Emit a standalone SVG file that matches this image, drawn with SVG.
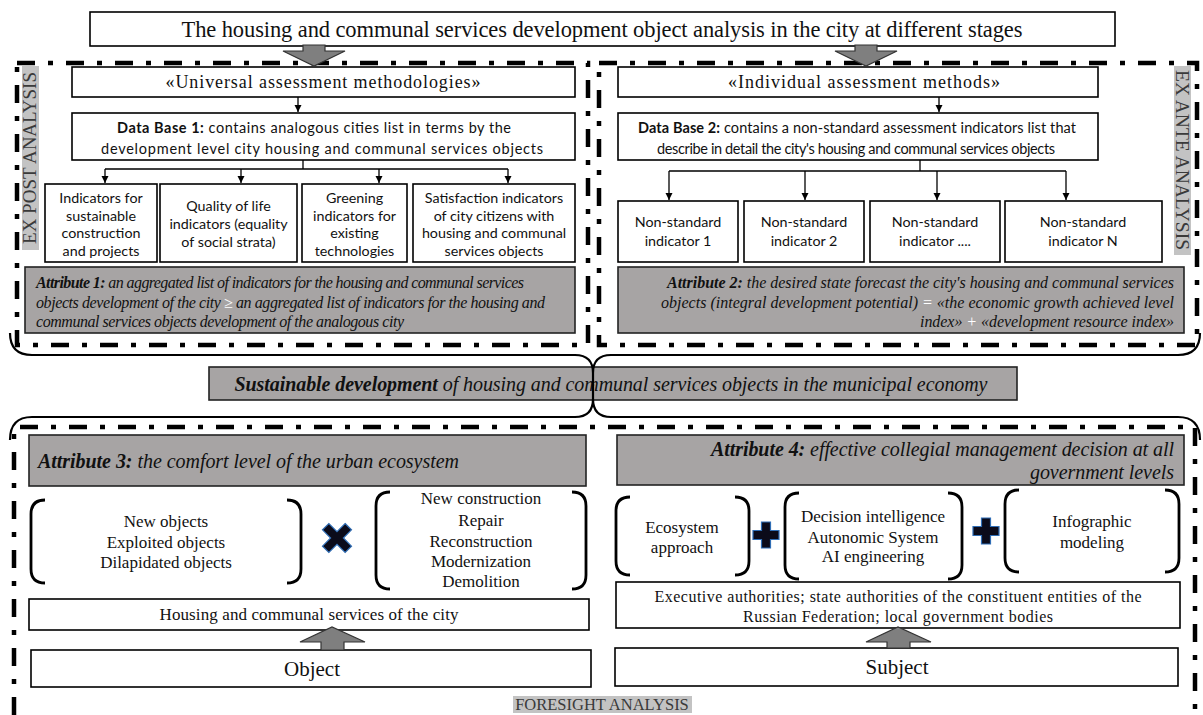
<svg xmlns="http://www.w3.org/2000/svg" width="1203" height="715" viewBox="0 0 1203 715">
<defs>
<marker id="ah" markerWidth="8" markerHeight="8" refX="7" refY="4" orient="auto" markerUnits="userSpaceOnUse"><path d="M0,0.5 L7,4 L0,7.5 Z" fill="#000"/></marker>
</defs>
<style>
.box{fill:#fff;stroke:#000;stroke-width:1.6}
.gbox{fill:#a7a4a4;stroke:#222;stroke-width:1.6}
.dash{fill:none;stroke:#000;stroke-width:4.5;stroke-dasharray:18 13 5 13}
.serif{font-family:"Liberation Serif","Times New Roman",serif;fill:#111}
.sans{font-family:Lato,"Liberation Sans",sans-serif;fill:#111}
.it{font-style:italic}
.b{font-weight:bold}
.c{text-anchor:middle}
.r{text-anchor:end}
.conn{fill:none;stroke:#000;stroke-width:1.3}
.brace{fill:none;stroke:#000;stroke-width:2.2}
.bracket{fill:none;stroke:#000;stroke-width:2.8}
.bigarrow{fill:#7f7f7f;stroke:#333;stroke-width:1.2}
.lbl{fill:#c3c3c3}
.lt{font-family:"Liberation Serif","Times New Roman",serif;fill:#3a3a3a}
.sym{fill:#0b0b1a;stroke:#2f6db5;stroke-width:1.2}
.wh{fill:#fff}
</style>

<!-- dashed frames -->
<g id="frames">
<rect class="dash" x="17" y="63" width="571" height="282"/>
<rect class="dash" x="599" y="63" width="598" height="282"/>
<path class="dash" d="M14,715 V427 H1195 V715"/>
</g>

<g id="title">
<rect class="box" x="90" y="12" width="1025" height="34"/>
<text class="serif c" x="602" y="37" font-size="22.5" textLength="841">The housing and communal services development object analysis in the city at different stages</text>
</g>

<g id="label-expost">
<rect class="lbl" x="22" y="66" width="17" height="184"/>
<text class="lt c" transform="translate(36,158) rotate(-90)" font-size="19">EX POST ANALYSIS</text>
</g>
<g id="label-exante">
<rect class="lbl" x="1174" y="66" width="17" height="189"/>
<text class="lt c" transform="translate(1176,160) rotate(90)" font-size="19.5">EX ANTE ANALYSIS</text>
</g>
<g id="label-foresight">
<rect class="lbl" x="513" y="696" width="179" height="17"/>
<text class="lt c" x="602" y="710" font-size="16.5">FORESIGHT ANALYSIS</text>
</g>

<!-- left top -->
<g id="universal">
<rect class="box" x="72" y="67" width="503" height="30"/>
<text class="serif c" x="323" y="88" font-size="18" textLength="315">«Universal assessment methodologies»</text>
</g>
<g id="db1">
<rect class="box" x="72" y="113" width="503" height="47"/>
<text class="sans c" x="314" y="133" font-size="14.5" textLength="394"><tspan class="b">Data Base 1:</tspan> contains analogous cities list in terms by the</text>
<text class="sans c" x="322" y="154" font-size="14.5" textLength="442">development level city housing and communal services objects</text>
</g>
<g id="ind1">
<rect class="box" x="45" y="184" width="112" height="78"/>
<text class="sans c" font-size="14.3"><tspan x="101" y="203">Indicators for</tspan><tspan x="101" y="221">sustainable</tspan><tspan x="101" y="238">construction</tspan><tspan x="101" y="256">and projects</tspan></text>
</g>
<g id="ind2">
<rect class="box" x="160" y="184" width="137" height="78"/>
<text class="sans c" font-size="14.3"><tspan x="228.5" y="211">Quality of life</tspan><tspan x="228.5" y="229">indicators (equality</tspan><tspan x="228.5" y="247">of social strata)</tspan></text>
</g>
<g id="ind3">
<rect class="box" x="302" y="184" width="105" height="78"/>
<text class="sans c" font-size="14.3"><tspan x="354.5" y="203">Greening</tspan><tspan x="354.5" y="221">indicators for</tspan><tspan x="354.5" y="238">existing</tspan><tspan x="354.5" y="256">technologies</tspan></text>
</g>
<g id="ind4">
<rect class="box" x="413" y="184" width="162" height="78"/>
<text class="sans c" font-size="14.3"><tspan x="494" y="203">Satisfaction indicators</tspan><tspan x="494" y="221">of city citizens with</tspan><tspan x="494" y="238">housing and communal</tspan><tspan x="494" y="256">services objects</tspan></text>
</g>
<g id="attr1">
<rect class="gbox" x="25" y="267" width="550" height="66"/>
<text class="serif it" x="36" y="288" font-size="16" textLength="488"><tspan class="b">Attribute 1:</tspan> an aggregated list of indicators for the housing and communal services</text>
<text class="serif it" x="36" y="308" font-size="16" textLength="509">objects development of the city <tspan class="wh">≥</tspan> an aggregated list of indicators for the housing and</text>
<text class="serif it" x="36" y="327" font-size="16" textLength="368">communal services objects development of the analogous city</text>
</g>

<!-- right top -->
<g id="individual">
<rect class="box" x="618" y="67" width="480" height="30"/>
<text class="serif c" x="864" y="88" font-size="18" textLength="272">«Individual assessment methods»</text>
</g>
<g id="db2">
<rect class="box" x="618" y="113" width="480" height="47"/>
<text class="sans c" x="857" y="133" font-size="14.5" textLength="438"><tspan class="b">Data Base 2:</tspan> contains a non-standard assessment indicators list that</text>
<text class="sans c" x="856" y="154" font-size="14.5" textLength="398">describe in detail the city's housing and communal services objects</text>
</g>
<g id="ns1">
<rect class="box" x="618" y="201" width="120" height="61"/>
<text class="sans c" font-size="14.3"><tspan x="678" y="227">Non-standard</tspan><tspan x="678" y="246">indicator 1</tspan></text>
</g>
<g id="ns2">
<rect class="box" x="744" y="201" width="120" height="61"/>
<text class="sans c" font-size="14.3"><tspan x="804" y="227">Non-standard</tspan><tspan x="804" y="246">indicator 2</tspan></text>
</g>
<g id="ns3">
<rect class="box" x="870" y="201" width="130" height="61"/>
<text class="sans c" font-size="14.3"><tspan x="935" y="227">Non-standard</tspan><tspan x="935" y="246">indicator ....</tspan></text>
</g>
<g id="ns4">
<rect class="box" x="1005" y="201" width="157" height="61"/>
<text class="sans c" font-size="14.3"><tspan x="1083" y="227">Non-standard</tspan><tspan x="1083" y="246">indicator N</tspan></text>
</g>
<g id="attr2">
<rect class="gbox" x="618" y="267" width="566" height="66"/>
<text class="serif it r" x="1174" y="288" font-size="16" textLength="507"><tspan class="b">Attribute 2:</tspan> the desired state forecast the city's housing and communal services</text>
<text class="serif it r" x="1174" y="308" font-size="16" textLength="513">objects (integral development potential) <tspan class="wh">=</tspan> «the economic growth achieved level</text>
<text class="serif it r" x="1174" y="327" font-size="16" textLength="254">index» <tspan class="wh">+</tspan> «development resource index»</text>
</g>

<!-- middle -->
<g id="sustainable">
<rect class="gbox" x="209" y="367" width="808" height="33"/>
<text class="serif it c" x="611" y="391" font-size="20" textLength="753"><tspan class="b">Sustainable development</tspan> of housing and communal services objects in the municipal economy</text>
</g>

<!-- bottom left -->
<g id="attr3">
<rect class="gbox" x="29" y="435" width="557" height="51"/>
<text class="serif it" x="38" y="468" font-size="20" textLength="421"><tspan class="b">Attribute 3:</tspan> the comfort level of the urban ecosystem</text>
</g>
<g id="objects-state">
<path class="bracket" d="M45,500 Q31,500 31,514 V569 Q31,583 45,583 M287,500 Q301,500 301,514 V569 Q301,583 287,583"/>
<text class="serif c" font-size="17"><tspan x="166" y="527">New objects</tspan><tspan x="166" y="548">Exploited objects</tspan><tspan x="166" y="568">Dilapidated objects</tspan></text>
</g>
<g id="times-sign">
<path class="sym" transform="translate(337,538) rotate(45)" d="M-4.5,-16 H4.5 V-4.5 H16 V4.5 H4.5 V16 H-4.5 V4.5 H-16 V-4.5 H-4.5 Z"/>
</g>
<g id="actions">
<path class="bracket" d="M390,492 Q376,492 376,506 V575 Q376,589 390,589 M572,492 Q586,492 586,506 V575 Q586,589 572,589"/>
<text class="serif c" font-size="17"><tspan x="481" y="504">New construction</tspan><tspan x="481" y="526">Repair</tspan><tspan x="481" y="547">Reconstruction</tspan><tspan x="481" y="567">Modernization</tspan><tspan x="481" y="587">Demolition</tspan></text>
</g>
<g id="housing">
<rect class="box" x="29" y="599" width="560" height="31"/>
<text class="serif c" x="309" y="620" font-size="17" textLength="299">Housing and communal services of the city</text>
</g>
<g id="object">
<rect class="box" x="31" y="650" width="560" height="37"/>
<text class="serif c" x="312" y="676" font-size="21">Object</text>
</g>

<!-- bottom right -->
<g id="attr4">
<rect class="gbox" x="617" y="435" width="567" height="50"/>
<text class="serif it r" x="1174" y="456" font-size="20" textLength="463"><tspan class="b">Attribute 4:</tspan> effective collegial management decision at all</text>
<text class="serif it r" x="1174" y="479" font-size="20" textLength="144">government levels</text>
</g>
<g id="ecosystem">
<path class="bracket" d="M630,497 Q616,497 616,511 V561 Q616,575 630,575 M735,497 Q749,497 749,511 V561 Q749,575 735,575"/>
<text class="serif c" font-size="17"><tspan x="682" y="533">Ecosystem</tspan><tspan x="682" y="553">approach</tspan></text>
</g>
<g id="plus1">
<path class="sym" transform="translate(766,535)" d="M-4.5,-13 H4.5 V-4.5 H13 V4.5 H4.5 V13 H-4.5 V4.5 H-13 V-4.5 H-4.5 Z"/>
</g>
<g id="decision">
<path class="bracket" d="M799,493 Q785,493 785,507 V565 Q785,579 799,579 M948,493 Q962,493 962,507 V565 Q962,579 948,579"/>
<text class="serif c" font-size="17"><tspan x="873" y="522">Decision intelligence</tspan><tspan x="873" y="543">Autonomic System</tspan><tspan x="873" y="562">AI engineering</tspan></text>
</g>
<g id="plus2">
<path class="sym" transform="translate(986,531)" d="M-4.5,-13 H4.5 V-4.5 H13 V4.5 H4.5 V13 H-4.5 V4.5 H-13 V-4.5 H-4.5 Z"/>
</g>
<g id="infographic">
<path class="bracket" d="M1019,490 Q1005,490 1005,504 V558 Q1005,572 1019,572 M1165,490 Q1179,490 1179,504 V558 Q1179,572 1165,572"/>
<text class="serif c" font-size="17"><tspan x="1092" y="527">Infographic</tspan><tspan x="1092" y="548">modeling</tspan></text>
</g>
<g id="authorities">
<rect class="box" x="616" y="582" width="564" height="46"/>
<text class="serif c" x="898" y="602" font-size="16" textLength="487">Executive authorities; state authorities of the constituent entities of the</text>
<text class="serif c" x="898" y="622" font-size="16" textLength="310">Russian Federation; local government bodies</text>
</g>
<g id="subject">
<rect class="box" x="615" y="648" width="563" height="38"/>
<text class="serif c" x="897" y="674" font-size="21">Subject</text>
</g>

<!-- connectors -->
<g id="connectors">
<path class="bigarrow" d="M303,45 H325 V51 H345 L314,66 L283,51 H303 Z"/>
<path class="bigarrow" d="M855,45 H877 V51 H897 L866,66 L835,51 H855 Z"/>
<line class="conn" x1="298" y1="97" x2="298" y2="112" marker-end="url(#ah)"/>
<path class="conn" d="M303,160 V169 M105,169 H508"/>
<line class="conn" x1="105" y1="169" x2="105" y2="183" marker-end="url(#ah)"/>
<line class="conn" x1="241" y1="169" x2="241" y2="183" marker-end="url(#ah)"/>
<line class="conn" x1="379" y1="169" x2="379" y2="183" marker-end="url(#ah)"/>
<line class="conn" x1="508" y1="169" x2="508" y2="183" marker-end="url(#ah)"/>
<line class="conn" x1="939" y1="97" x2="939" y2="112" marker-end="url(#ah)"/>
<path class="conn" d="M920,160 V171 M669,171 H1066"/>
<line class="conn" x1="669" y1="171" x2="669" y2="200" marker-end="url(#ah)"/>
<line class="conn" x1="805" y1="171" x2="805" y2="200" marker-end="url(#ah)"/>
<line class="conn" x1="937" y1="171" x2="937" y2="200" marker-end="url(#ah)"/>
<line class="conn" x1="1066" y1="171" x2="1066" y2="200" marker-end="url(#ah)"/>
<path class="brace" d="M10,333 Q10,355 32,355 H575 Q593,355 593,373 V386 V373 Q593,355 611,355 H1178 Q1200,355 1200,333"/>
<path class="brace" d="M10,440 Q10,417 32,417 H575 Q593,417 593,399 V384 V399 Q593,417 611,417 H1178 Q1200,417 1200,440"/>
<path class="bigarrow" d="M321,650 V642 H300 L332,627 L365,642 H344 V650 Z"/>
<path class="bigarrow" d="M887,648 V642 H866 L898,627 L931,642 H910 V648 Z"/>
</g>
</svg>
